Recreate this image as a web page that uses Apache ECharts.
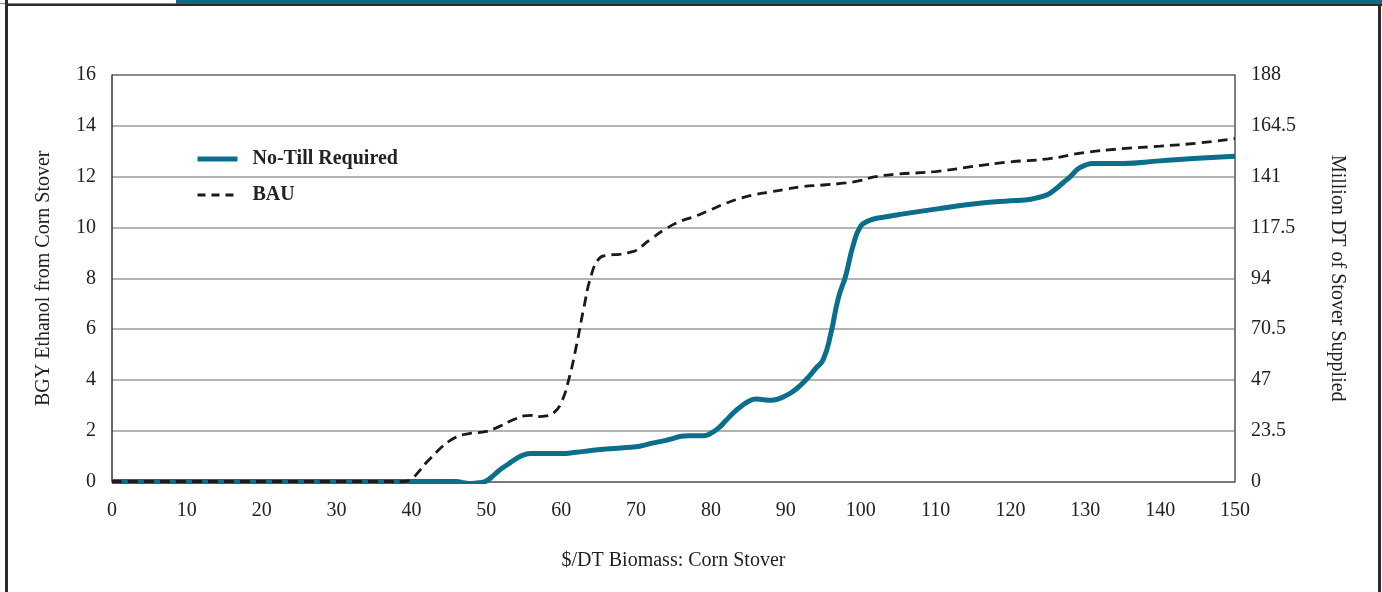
<!DOCTYPE html>
<html>
<head>
<meta charset="utf-8">
<script src="https://cdn.jsdelivr.net/npm/echarts@6/dist/echarts.min.js"></script>
<style>
html,body{margin:0;padding:0;background:#fff;}
#wrap{position:relative;width:1382px;height:592px;overflow:hidden;background:#fff;}
#chart{position:absolute;left:0;top:0;width:1382px;height:592px;}
.fr{position:absolute;}
</style>
</head>
<body>
<div id="wrap">
<div id="chart"></div>
<div class="fr" style="left:176px;top:0;width:1206px;height:4px;background:#0a6b87;"></div>
<div class="fr" style="left:0;top:3px;width:176px;height:1px;background:#8a8a8a;"></div>
<div class="fr" style="left:5px;top:4px;width:1377px;height:2px;background:#2b2b2b;"></div>
<div class="fr" style="left:5px;top:0;width:3px;height:592px;background:#2b2b2b;"></div>
<div class="fr" style="left:1378px;top:4px;width:3px;height:588px;background:#2b2b2b;"></div>
</div>
<script>
// ---- data ----
const xTicks = [0,10,20,30,40,50,60,70,80,90,100,110,120,130,140,150];
const leftTicks = [0,2,4,6,8,10,12,14,16];
const rightTicks = [0,23.5,47,70.5,94,117.5,141,164.5,188];

const noTillX = [0,10,20,30,40,46,47,48,49,50,51,52,53,54,55,56,58,60,62,64,66,68,70,71,72,74,75,76,77,79,80,81,82,83,84,85,86,87,88,89,90,91,92,93,94,95,96,97,98,99,100,101,102,103,105,110,115,120,122,124,125,126,127,128,129,130,131,135,140,145,150];
const noTillY = [0,0,0,0,0,0,-0.05,-0.08,-0.05,0.02,0.25,0.5,0.7,0.9,1.05,1.1,1.1,1.1,1.15,1.22,1.28,1.32,1.37,1.42,1.5,1.62,1.7,1.78,1.8,1.8,1.9,2.1,2.4,2.7,2.95,3.15,3.25,3.22,3.2,3.25,3.38,3.55,3.8,4.1,4.45,4.8,5.8,7.2,8.1,9.3,10.05,10.25,10.35,10.4,10.5,10.72,10.92,11.05,11.08,11.2,11.3,11.5,11.75,12.0,12.3,12.45,12.52,12.52,12.62,12.72,12.8];

const bauX = [0,10,20,30,39,40,41,42,43,44,45,46,47,48,50,51,52,53,54,55,56,57,58,59,60,61,62,63,64,65,66,68,69.5,70,72,74,76,78,80,82,84,86,88,90,92,95,98,100,102,105,110,115,120,125,130,135,140,145,150];
const bauY = [0,0,0,0,0,0.1,0.4,0.75,1.05,1.35,1.58,1.75,1.85,1.9,1.97,2.07,2.2,2.35,2.48,2.58,2.6,2.55,2.58,2.7,3.1,4.0,5.3,6.8,8.1,8.75,8.9,8.95,9.05,9.1,9.55,9.95,10.25,10.45,10.7,10.95,11.15,11.3,11.4,11.5,11.6,11.67,11.75,11.85,12.0,12.1,12.2,12.4,12.58,12.7,12.95,13.1,13.2,13.32,13.5];

const seriesNames = ['No-Till Required','BAU'];
const xName = '$/DT Biomass: Corn Stover';
const leftName = 'BGY Ethanol from Corn Stover';
const rightName = 'Million DT of Stover Supplied';

const TEAL = '#0b6f8b';
const DARK = '#1a1a1a';
const FONT = '"Liberation Serif", "DejaVu Serif", serif';

const chart = echarts.init(document.getElementById('chart'), null, {renderer:'canvas'});
const pairs = (xs, ys) => xs.map((x,i)=>[x, ys[i]]);

chart.setOption({
  animation:false,
  textStyle:{fontFamily:FONT},
  grid:{left:112, right:147, top:75, bottom:110.5, containLabel:false},
  legend:{
    orient:'vertical', left:195, top:149, padding:0,
    itemWidth:40, itemHeight:20, itemGap:16,
    itemStyle:{opacity:0},
    textStyle:{fontFamily:FONT, fontSize:20, fontWeight:'bold', color:'#222', padding:[0,0,0,10]},
    data:[
      {name:seriesNames[0], lineStyle:{width:5, color:TEAL}},
      {name:seriesNames[1], lineStyle:{width:2.8, color:DARK, type:[8,6]}}
    ]
  },
  xAxis:{
    type:'value', min:0, max:150, interval:10,
    name:xName, nameLocation:'middle', nameGap:69,
    nameTextStyle:{fontFamily:FONT, fontSize:20, color:'#222'},
    axisLine:{show:true, lineStyle:{color:'#666', width:1.5}},
    axisTick:{show:false},
    axisLabel:{fontFamily:FONT, fontSize:20, color:'#222', margin:19,
      formatter:v=> xTicks.includes(v)? String(v):''},
    splitLine:{show:false}
  },
  yAxis:[{
    type:'value', min:0, max:16, interval:2, position:'left',
    name:leftName, nameLocation:'middle', nameGap:58, nameRotate:90,
    nameTextStyle:{fontFamily:FONT, fontSize:20, color:'#222'},
    axisLine:{show:true, lineStyle:{color:'#333', width:1.5}},
    axisTick:{show:false},
    axisLabel:{fontFamily:FONT, fontSize:20, color:'#222', margin:16,
      formatter:v=> leftTicks.includes(v)? String(v):''},
    splitLine:{show:true, lineStyle:{color:'#9a9a9a', width:1.5}}
  },{
    type:'value', min:0, max:188, interval:23.5, position:'right',
    name:rightName, nameLocation:'middle', nameGap:92, nameRotate:-90,
    nameTextStyle:{fontFamily:FONT, fontSize:20, color:'#222'},
    axisLine:{show:true, lineStyle:{color:'#555', width:1.5}},
    axisTick:{show:false},
    axisLabel:{fontFamily:FONT, fontSize:20, color:'#222', margin:16,
      formatter:v=> rightTicks.includes(v)? String(v):''},
    splitLine:{show:false}
  }],
  graphic:[{
    type:'line', shape:{x1:112, y1:75, x2:1235, y2:75},
    style:{stroke:'#333', lineWidth:1.5}, z:0
  }],
  series:[{
    name:seriesNames[0], type:'line', yAxisIndex:0,
    data:pairs(noTillX, noTillY),
    showSymbol:false, symbol:'none', smooth:0.5,
    lineStyle:{color:TEAL, width:5}, itemStyle:{color:TEAL}, z:3
  },{
    name:seriesNames[1], type:'line', yAxisIndex:0,
    data:pairs(bauX, bauY),
    showSymbol:false, symbol:'none', smooth:0.5,
    lineStyle:{color:DARK, width:2.8, type:[10,6]}, itemStyle:{color:DARK}, z:4
  }]
});
</script>
</body>
</html>
